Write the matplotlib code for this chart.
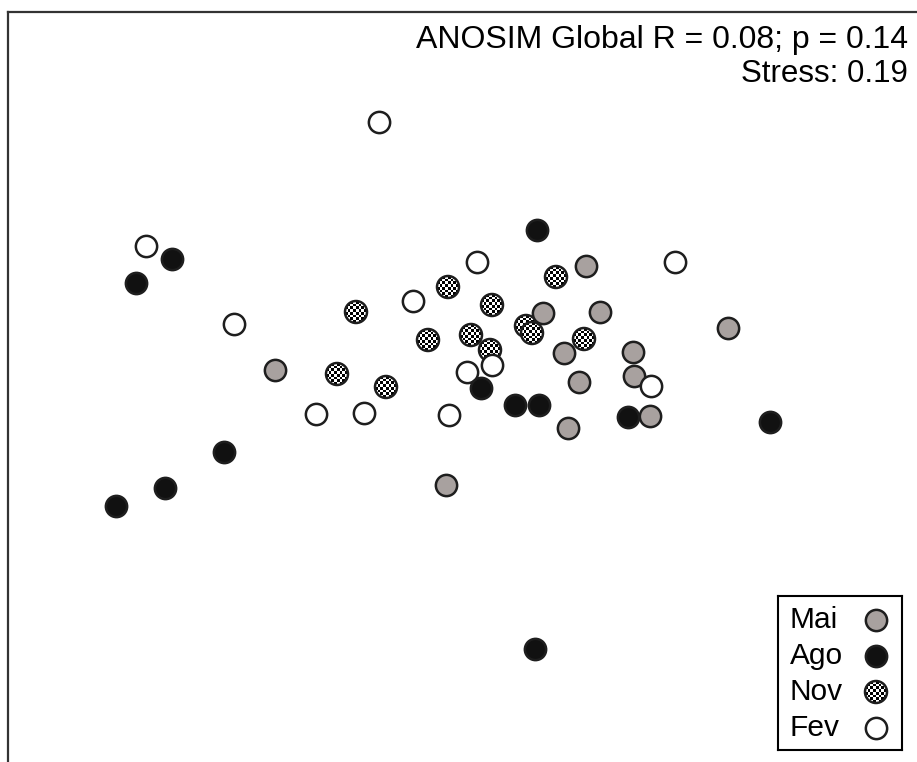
import matplotlib

matplotlib.use("Agg")
import matplotlib.pyplot as plt
import numpy as np
from matplotlib.patches import Circle

plt.rcParams["font.family"] = ["Liberation Sans", "DejaVu Sans"]

# NMDS scores per sampling month (arbitrary units)
mai_x = [0.544, 0.372, 0.600, 0.456, 0.732, 0.516, 0.736, 0.800, 0.472, 1.112, -0.700, -0.016]
mai_y = [0.536, 0.348, 0.352, 0.188, 0.192, 0.072, 0.096, -0.064, -0.112, 0.288, 0.120, -0.340]

ago_x = [0.348, -1.112, -1.256, 0.124, 0.260, 0.356, 0.712, 1.280, -0.904, -1.140, -1.336, 0.340]
ago_y = [0.680, 0.564, 0.468, 0.048, -0.020, -0.020, -0.068, -0.088, -0.208, -0.352, -0.424, -0.996]

nov_x = [0.424, -0.008, -0.376, 0.168, 0.304, 0.328, -0.088, 0.084, 0.160, 0.536, -0.452, -0.256]
nov_y = [0.492, 0.452, 0.352, 0.380, 0.296, 0.268, 0.240, 0.260, 0.200, 0.244, 0.104, 0.052]

fev_x = [-0.284, -1.216, 0.108, 0.900, -0.148, -0.864, 0.068, 0.168, 0.804, -0.536, -0.344, -0.004]
fev_y = [1.112, 0.616, 0.552, 0.552, 0.396, 0.304, 0.112, 0.140, 0.056, -0.056, -0.052, -0.060]

months = ["Mai", "Ago", "Nov", "Fev"]
anosim_text = "ANOSIM Global R = 0.08; p = 0.14"
stress_text = "Stress: 0.19"

GRAY = "#a8a19f"
BLACK = "#111111"
EDGE = "#1e1e1e"
MSIZE = 235           # scatter marker area (pt^2)
MEW = 1.8
PX = 250              # pixels per NMDS unit, same on both axes
R_PX = 11             # dot radius in pixels
CHECKER = np.indices((8, 8)).sum(axis=0) % 2


def checker_dot(ax, x, y, r, zorder):
    im = ax.imshow(CHECKER, cmap="gray", vmin=0, vmax=1, interpolation="nearest",
                   extent=(x - r, x + r, y - r, y + r), aspect="auto", zorder=zorder)
    im.set_clip_path(Circle((x, y), r, transform=ax.transData))
    ax.add_patch(Circle((x, y), r, facecolor="none", edgecolor=EDGE, lw=MEW, zorder=zorder))


def frame_only(ax, lw, color):
    ax.set_xticks([])
    ax.set_yticks([])
    for side in ax.spines.values():
        side.set_linewidth(lw)
        side.set_color(color)


fig = plt.figure(figsize=(9.17, 7.62), dpi=100)
# frame runs off the right and bottom edges, as in the cropped original
ax = fig.add_axes([8 / 917, -8 / 762, 917 / 917, 758 / 762])

for x, y in zip(nov_x, nov_y):
    checker_dot(ax, x, y, R_PX / PX, zorder=2)
ax.scatter(mai_x, mai_y, s=MSIZE, c=GRAY, edgecolors=EDGE, linewidths=MEW, zorder=3)
ax.scatter(fev_x, fev_y, s=MSIZE, c="white", edgecolors=EDGE, linewidths=MEW, zorder=4)
ax.scatter(ago_x, ago_y, s=MSIZE, c=BLACK, edgecolors=EDGE, linewidths=MEW, zorder=5)

ax.set_xlim(-1.768, 1.900)
ax.set_ylim(-1.480, 1.552)
frame_only(ax, 1.6, "#333333")

fig.text(908 / 917, 1 - 48 / 762, anosim_text, ha="right", va="baseline", fontsize=23)
fig.text(908 / 917, 1 - 82 / 762, stress_text, ha="right", va="baseline", fontsize=22.5)

# legend box: labels left-aligned, symbols on the right (drawn in its own pixel-unit axes)
lw_box, lh_box = 124, 154
lax = fig.add_axes([778 / 917, 12 / 762, lw_box / 917, lh_box / 762])
lax.set_xlim(0, lw_box)
lax.set_ylim(0, lh_box)
frame_only(lax, 1.5, "black")
row_y = [lh_box - 24 - 36 * i for i in range(len(months))]
sym_x = 98
for label, y in zip(months, row_y):
    lax.text(12, y - 8, label, ha="left", va="baseline", fontsize=21.5)
lax.scatter([sym_x], [row_y[0]], s=MSIZE, c=GRAY, edgecolors=EDGE, linewidths=MEW, clip_on=False)
lax.scatter([sym_x], [row_y[1]], s=MSIZE, c=BLACK, edgecolors=EDGE, linewidths=MEW, clip_on=False)
checker_dot(lax, sym_x, row_y[2], R_PX, zorder=2)
lax.scatter([sym_x], [row_y[3]], s=MSIZE, c="white", edgecolors=EDGE, linewidths=MEW, clip_on=False)
lax.set_xlim(0, lw_box)
lax.set_ylim(0, lh_box)

fig.savefig("out.png", dpi=100)
